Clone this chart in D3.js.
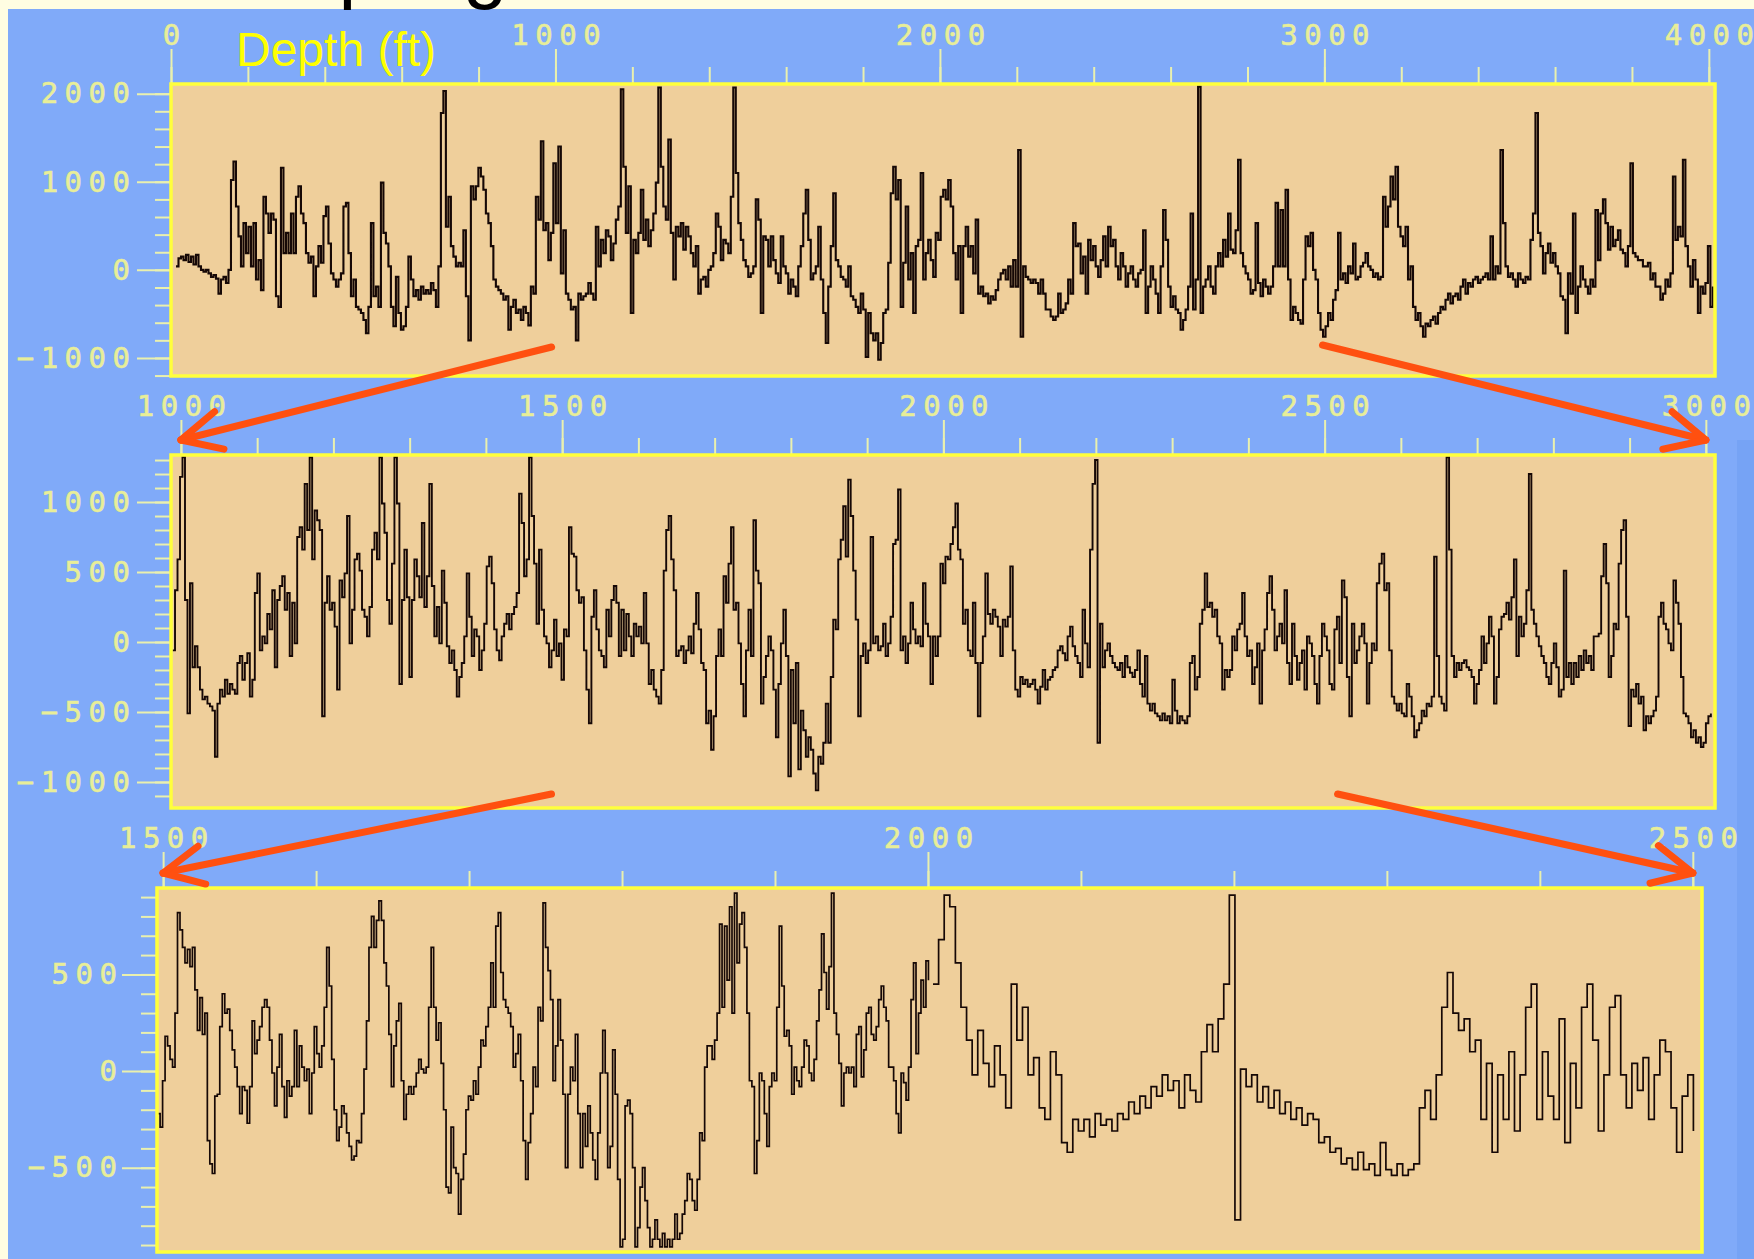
<!DOCTYPE html>
<html>
<head>
<meta charset="utf-8">
<script src="https://cdn.jsdelivr.net/npm/d3@7"></script>
<style>
  body { margin: 0; background: #fffde2; }
  svg { display: block; }
</style>
</head>
<body>
<svg id="chart" width="1754" height="1259"></svg>
<script>
// ---- data: log values, one value per depth step ----

// panel 1: full well, 0 - 4000 ft
var p1Start = 13, p1Step = 6.5;
var p1Values = [
  40,130,150,110,170,90,150,60,170,40, 0,-20,0,-40,-80,-60,-100,-270,-110,-80,
  -150,0,1020,1230,720,380,40,530,190,490, 40,530,-110,110,-230,830,640,420,640,570,
  -300,-420,1160,190,420,190,640,190,830,950, 640,530,190,80,150,-300,40,270,80,610,
  720,300,-40,-110,-190,-110,-40,720,760,190, -300,-110,-420,-450,-490,-570,-720,-420,530,-300,
  -190,-420,990,420,300,40,-420,-640,-80,-490, -680,-640,-420,150,-110,-300,-230,-340,-190,-270,
  -230,-270,-150,-230,-420,40,1780,2030,490,830, 270,150,40,80,40,450,-300,-800,950,800,
  950,1160,1060,910,640,530,270,-110,-190,-230, -270,-340,-300,-680,-420,-340,-490,-450,-570,-420,
  -490,-630,-190,-270,830,570,1460,450,530,110, 420,1210,530,1400,-40,450,-270,-340,-450,-420,
  -800,-270,-340,-300,-270,-150,-270,-340,490,40, 340,190,450,380,110,300,570,720,2050,1170,
  420,950,-490,340,190,420,910,340,570,270, 450,640,990,2070,1170,720,570,1480,420,-110,
  490,380,530,230,490,380,190,40,270,-270, -110,-80,-190,0,40,190,640,490,110,340,
  300,190,830,2070,1100,530,340,110,40,-80, -40,40,800,570,-490,380,340,40,380,110,
  -40,-150,380,40,-40,-270,-110,-190,-300,40, 270,640,910,340,-110,-40,40,490,-110,-490,
  -830,-190,270,870,110,40,-80,-110,-190,40, -300,-340,-420,-490,-270,-450,-990,-490,-720,-800,
  -720,-1020,-830,-490,-450,80,870,1170,800,1020, -420,80,720,-110,190,-490,270,340,1100,-110,
  190,340,110,-80,420,340,830,910,800,1020,
  720,190,-110,270,-490,270,490,150,270,-40, 570,-270,-190,-300,-270,-380,-300,-340,-230,-110,
  -40,0,-110,40,-190,110,-190,1360,-760,40, -80,-110,-150,-110,-150,-270,-110,-270,-450,-450,
  -530,-570,-530,-270,-490,-450,-380,-110,-270,530, 270,300,-40,150,-270,340,110,270,40,-80,
  110,380,40,490,270,340,40,-110,190,40, -190,-40,40,-110,-190,-40,0,450,-490,-190,
  40,-110,-270,-490,40,680,340,-190,-420,-300, -450,-490,-680,-570,-450,-190,640,-450,-110,2080,
  -490,-190,-110,40,-190,-270,40,190,40,340, 150,640,230,190,450,1250,190,40,-40,-110,
  -270,-230,530,-150,-300,-110,-190,-270,-190,40, 760,40,680,40,910,-110,-570,-420,-490,-570,
  -610,-110,380,270,420,0,-110,-490,-680,-760, -640,-490,-570,-340,-230,420,-110,-40,-150,40,
  -40,300,-110,-80,40,80,190,40,0,-80, -40,-110,-80,830,490,720,1060,800,1170,490,
  380,270,490,-110,40,-420,-570,-490,-640,-760, -610,-640,-570,-530,-610,-490,-420,-450,-340,-270,
  -380,-300,-270,-340,-190,-110,-270,-150,-190,-110, -80,-150,-110,-80,-40,-110,380,-110,40,-40,
  1360,530,40,-80,-40,-110,-190,-40,-110,-150, -80,-110,340,640,1780,420,270,-40,190,300,
  80,190,40,-40,-300,-340,-720,-40,-270,640, -490,-190,40,-110,-190,-270,-110,-190,680,110,
  640,800,530,230,490,270,340,450,230,190, 40,270,1210,190,150,110,110,40,40,80,
  -110,-40,-190,-190,-340,-270,-110,-190,-40,1060, 340,490,380,1250,270,40,-190,110,-110,-490,
  -190,-270,-150,270,-420,-190
];

// panel 2: 1000 - 3000 ft
var p2Start = 989, p2Step = 3.27;
var p2Values = [
  -60,370,590,1180,1320,300,-510,420,-180,-30, -180,-340,-410,-390,-440,-460,-490,-820,-440,-340,
  -390,-270,-370,-300,-340,-370,-150,-100,-270,-150, -80,-390,-270,350,490,-60,40,-10,200,90,
  370,-180,300,400,470,230,350,-100,280,-10, 750,820,660,1130,800,1320,590,940,870,800,
  -530,280,470,230,280,110,-340,440,320,490, 900,-10,230,590,630,510,230,180,40,250,
  660,780,590,1320,990,780,300,130,560,1320, 990,-300,300,660,320,-250,300,590,470,320,
  850,250,470,1130,400,40,250,-10,510,280, -30,-150,-60,-200,-390,-250,-150,40,490,180,
  -100,90,40,-200,-60,130,540,610,420,90, -60,-130,40,130,200,90,200,250,350,1060,
  850,470,590,1320,900,560,130,660,230,40, -10,-180,-60,160,-100,-10,-270,90,40,820,
  630,610,370,280,320,-60,-340,-580,180,370, 90,-60,-100,-180,230,40,300,400,280,-100,
  230,-60,200,40,-100,130,40,110,-10,350, -10,-300,-200,-340,-390,-440,-200,510,800,900,
  590,370,-100,-60,-30,-150,-60,40,-80,130, 350,90,-150,-200,-580,-490,-770,-530,-100,90,
  -100,470,280,560,820,230,280,-10,-300,-530, -60,230,-100,870,510,420,-440,-250,-100,40,
  -60,-340,-680,-300,-10,230,-100,-960,-200,-580, -150,-910,-490,-630,-820,-680,-770,-940,-1060,-820,
  -870,-720,-440,-720,-250,160,90,590,730,970, 610,1160,900,510,160,-530,-100,-10,-150,-60,
  750,-10,40,-60,-30,130,-100,-10,180,700, 730,1090,-60,40,-150,-10,280,90,-10,40,
  -30,420,130,40,-300,40,-100,40,560,420, 610,
  590,700,820,990,660,590,130,230,-60,-100, 280,-150,-530,-150,40,490,200,130,230,180,
  110,-100,160,110,180,540,-60,-340,-390,-250, -300,-270,-320,-300,-270,-340,-440,-320,-200,-340,
  -270,-250,-200,-180,-60,-30,-80,-130,40,110, -30,-100,-150,-250,230,-10,-180,660,1130,1300,
  -720,130,-180,-60,-10,-100,-150,-180,-200,-150, -250,-100,-180,-220,-250,-200,-60,-300,-390,-100,
  -440,-490,-440,-510,-530,-560,-510,-560,-530,-580, -270,-490,-580,-530,-560,-580,-530,-150,-100,-340,
  -250,130,230,490,250,280,180,230,40,-10, -340,-200,-250,-200,40,-60,90,130,350,40,
  -100,-60,-300,-180,-10,-440,-60,90,350,470, 230,-60,40,130,-10,370,-150,-300,130,-100,
  -270,-150,-60,-340,40,-10,-100,-300,-440,-100, 130,40,-60,-300,-340,90,180,-150,440,320,
  -250,-530,130,-150,-60,40,130,-10,-440,-150, -10,-60,420,560,630,370,420,-60,-390,-440,
  -490,-440,-510,-530,-300,-390,-530,-680,-630,-580, -490,-530,-440,-460,-390,610,-100,-390,-440,-490,
  1320,660,-100,-250,-150,-200,-150,-130,-180,-200, -250,-440,-300,-200,40,-150,-10,180,40,-440,
  -250,90,180,200,280,160,320,590,-100,180, 40,130,370,1200,230,130,40,-30,-100,-150,
  -250,-300,-150,-10,-180,-390,-340,510,-250,-150, -300,-150,-250,-100,-200,-60,-150,-100,-200,40,
  40,60,470,700,420,-250,-100,130,90,560, 800,870,180,-600,-340,-390,-300,-440,-390,-630,
  -530,-580,-530,-490,-390,180,280,130,90,-10, -60,440,280,130,-250,-510,-530,-580,-680,-630,
  -720,-680,-750,-720,-580,-530,-510
];

// panel 3: 1500 - 2500 ft (two stretches)
var p3aStart = 1496.4, p3aStep = 1.6255;
var p3aValues = [
  -220,-290,-50,180,130,60,20,300,820,730, 640,560,630,540,640,420,210,380,190,300,
  -360,-480,-530,-130,-120,230,400,300,320,210, 110,20,-80,-220,-80,-100,-270,-80,260,90,
  160,230,330,370,330,160,-10,-180,20,190, -80,-240,-50,-130,-80,210,-80,130,20,-50,
  10,-220,-10,230,90,20,130,330,640,440, 60,-200,-360,-290,-180,-220,-320,-390,-460,-440,
  -360,-370,-220,10,260,640,800,640,780,880, 780,560,440,190,-80,130,260,350,-50,-250,
  -120,-80,-120,-80,-10,60,10,-10,20,330, 640,330,160,250,40,-200,-600,-630,-290,-500,
  -530,-740,-560,-430,-200,-130,-150,-50,-120,20, 160,130,230,330,560,330,750,820,510,370,
  330,300,230,20,90,190,-50,-360,-560,-370, -220,20,-80,330,260,870,640,520,370,-50,
  130,370,160,-120,-500,-120,20,-50,190,-220, -500,-220,-390,-180,-320,-460,-560,-320,-10,210,
  -10,-500,-390,110,-120,-560,-910,-870,-180,-150, -220,-500,-910,-810,-600,-500,-670,-810,-910,-870,
  -770,-870,-910,-840,-910,-870,-910,-870,-740,-870, -840,-740,-670,-530,-560,-670,-720,-560,-320,-360,
  20,130,130,60,160,300,760,330,750,470, 850,300,920,560,760,820,640,300,-50,-80,
  -530,-360,-10,-50,-220,-390,-80,-10,-50,330, 750,440,180,210,130,-120,20,-50,-80,20,
  160,130,-10,-50,60,260,420,710,510,320, 540,920,300,190,40,-180,-10,20,-10,20,
  -80,190,230,-30,110,300,330,190,160,230, 370,440,330,260,20,20,-50,-220,-320,-10,
  -60,-150,20,370,560,90,300,470,330,570, 470
];
var p3bStart = 2003.3, p3bStep = 3.655;
var p3bValues = [
  450,680,910,850,560,330,160,-20,210,40, -80,130,-20,-190,450,160,330,-20,70,-190,
  -250,100,-20,-370,-420,-250,-310,-250,-340,-220, -280,-250,-310,-220,-250,-160,-220,-130,-190,-80,
  -130,-20,-100,-50,-190,-20,-100,-160,100,240, 100,270,450,910,-770,10,-80,-20,-160,-80,
  -190,-100,-220,-160,-250,-190,-280,-220,-250,-370, -340,-420,-400,-480,-450,-510,-420,-510,-480,-540,
  -370,-510,-540,-480,-540,-510,-480,-190,-100,-250, -20,330,510,300,210,270,100,160,-250,40,
  -420,-20,-250,100,-310,-20,330,450,-250,100, -130,-250,270,-370,40,-190,330,450,160,-310,
  -20,330,390,-20,-190,40,-100,70,-250,-20, 160,100,-190,-420,-130,-20,-310
];

// axis labels
var p1DepthLabels = [0, 1000, 2000, 3000, 4000];
var p1ValueLabels = [-1000, 0, 1000, 2000];
var p2DepthLabels = [1000, 1500, 2000, 2500, 3000];
var p2ValueLabels = [-1000, -500, 0, 500, 1000];
var p3DepthLabels = [1500, 2000, 2500];
var p3ValueLabels = [-500, 0, 500];

// ---- layout ----
function toPoints(start, step, vals) {
  return vals.map(function (v, i) { return [start + i * step, v]; });
}

var panels = [
  { box: [171, 84, 1715, 376], xDom: [0, 4016], yDom: [-1205, 2110],
    xLab: p1DepthLabels, xMinor: 200, yLab: p1ValueLabels, yMinor: 200, tick: 34,
    series: [toPoints(p1Start, p1Step, p1Values)], lw: 2.1 },
  { box: [171, 455, 1715, 808], xDom: [987, 3012], yDom: [-1186, 1336],
    xLab: p2DepthLabels, xMinor: 100, yLab: p2ValueLabels, yMinor: 100, tick: 34,
    series: [toPoints(p2Start, p2Step, p2Values)], lw: 1.9 },
  { box: [157, 888, 1702, 1252], xDom: [1496, 2506], yDom: [-936, 947],
    xLab: p3DepthLabels, xMinor: 100, yLab: p3ValueLabels, yMinor: 100, tick: 35,
    series: [toPoints(p3aStart, p3aStep, p3aValues), toPoints(p3bStart, p3bStep, p3bValues)], lw: 1.7 }
];

var svg = d3.select("#chart");
var labelColor = "#e8ee98", tickColor = "#e9f0ae", ls = 6.5;

svg.append("rect").attr("x", 8).attr("y", 9).attr("width", 1746).attr("height", 1250).attr("fill", "#80aaf9");
svg.append("rect").attr("x", 1737).attr("y", 440).attr("width", 17).attr("height", 819).attr("fill", "#76a3f5");

// title, mostly cut off at the top of the page
svg.append("text").attr("x", 174).attr("y", -7)
  .style("font-family", "Liberation Sans, Arial, sans-serif").style("font-size", "80px")
  .attr("fill", "#000").text("Sampling");

function range(d0, d1, step) {
  return d3.range(Math.ceil(d0 / step) * step, d1 + 1e-6, step);
}

panels.forEach(function (p, k) {
  var L = p.box[0], T = p.box[1], R = p.box[2], B = p.box[3];
  var x = d3.scaleLinear().domain(p.xDom).range([L, R]);
  var y = d3.scaleLinear().domain(p.yDom).range([B, T]);
  p.x = x; p.y = y;

  var g = svg.append("g");
  g.append("rect").attr("x", L).attr("y", T).attr("width", R - L).attr("height", B - T)
    .attr("fill", "#efcf9b");

  // minor ticks
  g.append("g").attr("transform", "translate(0," + T + ")")
    .call(d3.axisTop(x).tickValues(range(p.xDom[0], p.xDom[1], p.xMinor)).tickSize(17).tickFormat(""));
  g.append("g").attr("transform", "translate(" + L + ",0)")
    .call(d3.axisLeft(y).tickValues(range(p.yDom[0], p.yDom[1], p.yMinor)).tickSize(16).tickFormat(""));

  // major ticks + labels
  var top = g.append("g").attr("transform", "translate(0," + T + ")")
    .call(d3.axisTop(x).tickValues(p.xLab).tickSize(p.tick + 1).tickPadding(4).tickFormat(d3.format("d")));
  top.selectAll("text").attr("dx", ls / 2);
  var left = g.append("g").attr("transform", "translate(" + L + ",0)")
    .call(d3.axisLeft(y).tickValues(p.yLab).tickSize(p.tick).tickPadding(k === 2 ? 5 : 7).tickFormat(d3.format("d")));
  left.selectAll("text").attr("dx", ls);

  g.selectAll(".domain").remove();
  g.selectAll(".tick line").attr("stroke", tickColor).attr("stroke-width", 2);
  g.selectAll(".tick text").attr("fill", labelColor)
    .attr("stroke", labelColor).attr("stroke-width", 0.6)
    .style("font-family", "DejaVu Sans Mono, monospace").style("font-size", "29px")
    .style("letter-spacing", ls + "px");

  // trace
  var clipId = "clip" + k;
  svg.append("clipPath").attr("id", clipId).append("rect")
    .attr("x", L).attr("y", T).attr("width", R - L).attr("height", B - T);
  var line = d3.line().x(function (d) { return x(d[0]); }).y(function (d) { return y(d[1]); })
    .curve(d3.curveStepAfter);
  g.append("g").attr("clip-path", "url(#" + clipId + ")")
    .selectAll("path").data(p.series).enter().append("path")
    .attr("d", line).attr("fill", "none").attr("stroke", "#160806")
    .attr("stroke-width", p.lw).attr("stroke-linejoin", "miter");

  g.append("rect").attr("x", L).attr("y", T).attr("width", R - L).attr("height", B - T)
    .attr("fill", "none").attr("stroke", "#ffff3c").attr("stroke-width", 3.5);
});

svg.append("text").attr("x", 236).attr("y", 66)
  .style("font-family", "Liberation Sans, Arial, sans-serif").style("font-size", "48px")
  .attr("fill", "#ffff00").text("Depth (ft)");

// zoom arrows from one panel's range to the next
var arrows = [
  { from: 0, fromDepth: 990, fromDy: -29, to: 1, toDepth: 1000 },
  { from: 0, fromDepth: 2995, fromDy: -31, to: 1, toDepth: 3000 },
  { from: 1, fromDepth: 1486, fromDy: -14, to: 2, toDepth: 1500 },
  { from: 1, fromDepth: 2517, fromDy: -14, to: 2, toDepth: 2500 }
];
var arrowG = svg.append("g").attr("stroke", "#ff5010").attr("stroke-width", 7)
  .attr("stroke-linecap", "round").attr("fill", "none");
arrows.forEach(function (a) {
  var pa = panels[a.from], pb = panels[a.to];
  var x0 = pa.x(a.fromDepth), y0 = pa.box[3] + a.fromDy;
  var x1 = pb.x(a.toDepth), y1 = pb.box[1] - 15;
  var ang = Math.atan2(y0 - y1, x0 - x1), len = 44, spread = 26 * Math.PI / 180;
  arrowG.append("line").attr("x1", x0).attr("y1", y0).attr("x2", x1).attr("y2", y1);
  [-spread, spread].forEach(function (s) {
    arrowG.append("line").attr("x1", x1).attr("y1", y1)
      .attr("x2", x1 + len * Math.cos(ang + s)).attr("y2", y1 + len * Math.sin(ang + s));
  });
});
</script>
</body>
</html>
